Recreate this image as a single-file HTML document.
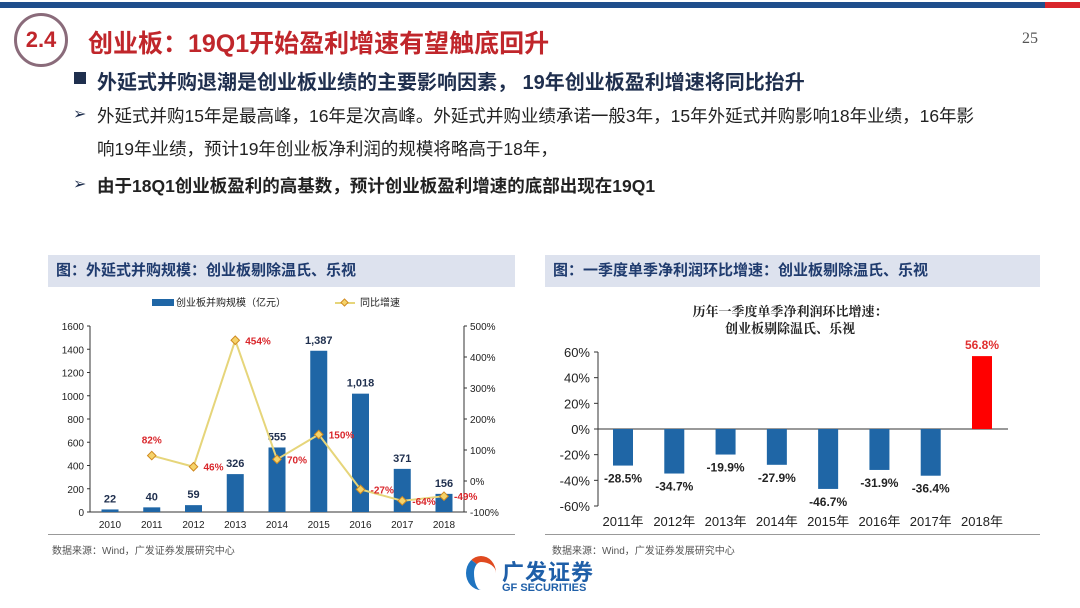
<!DOCTYPE html>
<html><head><meta charset="utf-8"><style>
body{margin:0;width:1080px;height:608px;background:#fff;position:relative;overflow:hidden;font-family:"Liberation Sans","Noto Sans CJK SC",sans-serif}
.a{position:absolute;white-space:nowrap}
.hdr{position:absolute;top:255px;height:32px;background:#dde2ee;font-weight:bold;font-size:15px;color:#1f3b6e;line-height:32px;padding-left:8px;box-sizing:border-box}
</style></head><body>
<div class="a" style="left:0;top:2px;width:1045px;height:6px;background:#1f4e8c"></div>
<div class="a" style="left:1045px;top:2px;width:35px;height:6px;background:#d9262b"></div>
<div class="a" style="left:14px;top:13px;width:54px;height:54px;border:3px solid #8a6b7a;border-radius:50%;box-sizing:border-box;color:#c0262b;font-weight:bold;font-size:22px;line-height:48px;text-align:center">2.4</div>
<div class="a" style="left:88px;top:24px;font-size:25px;font-weight:bold;color:#c0262b">创业板：19Q1开始盈利增速有望触底回升</div>
<div class="a" style="left:1022px;top:30px;font-size:16px;color:#555;font-family:'Liberation Serif',serif">25</div>
<div class="a" style="left:74px;top:72px;width:12px;height:12px;background:#1f2f4e"></div>
<div class="a" style="left:97px;top:66px;font-size:20px;font-weight:bold;color:#1f2f4e">外延式并购退潮是创业板业绩的主要影响因素， 19年创业板盈利增速将同比抬升</div>
<div class="a" style="left:73px;top:104px;font-size:16px;color:#1f2f4e">➢</div>
<div class="a" style="left:97px;top:103px;font-size:17.5px;color:#222">外延式并购15年是最高峰，16年是次高峰。外延式并购业绩承诺一般3年，15年外延式并购影响18年业绩，16年影</div>
<div class="a" style="left:97px;top:136px;font-size:17.5px;color:#222">响19年业绩，预计19年创业板净利润的规模将略高于18年，</div>
<div class="a" style="left:73px;top:174px;font-size:16px;color:#1f2f4e">➢</div>
<div class="a" style="left:97px;top:173px;font-size:17.5px;font-weight:bold;color:#222">由于18Q1创业板盈利的高基数，预计创业板盈利增速的底部出现在19Q1</div>
<div class="hdr" style="left:48px;width:467px">图：外延式并购规模：创业板剔除温氏、乐视</div>
<div class="hdr" style="left:545px;width:495px">图：一季度单季净利润环比增速：创业板剔除温氏、乐视</div>
<svg class="a" style="left:0;top:0" width="1080" height="608" id="svg"></svg>
<div class="a" style="left:48px;top:534px;width:467px;height:1px;background:#999"></div>
<div class="a" style="left:545px;top:534px;width:495px;height:1px;background:#999"></div>
<div class="a" style="left:52px;top:542px;font-size:10px;color:#555">数据来源：Wind，广发证券发展研究中心</div>
<div class="a" style="left:552px;top:542px;font-size:10px;color:#555">数据来源：Wind，广发证券发展研究中心</div>
<div class="a" style="left:466px;top:556px;width:30px;height:34px;border-radius:50%;border-left:8px solid #1f74c0;border-top:6px solid #e04a20;box-sizing:border-box"></div>
<div class="a" style="left:502px;top:555px;font-size:22px;font-weight:bold;color:#1f5fa8;letter-spacing:1px">广发证券</div>
<div class="a" style="left:502px;top:582px;font-size:11px;font-weight:bold;color:#1f5fa8">GF SECURITIES</div>
<script>
const years1=["2010","2011","2012","2013","2014","2015","2016","2017","2018"];
const scale1=[22,40,59,326,555,1387,1018,371,156];
const scaleLabels=["22","40","59","326","555","1,387","1,018","371","156"];
const growth1=[null,82,46,454,70,150,-27,-64,-49];
const growthLabels=["","82%","46%","454%","70%","150%","-27%","-64%","-49%"];
const leftTicks=[0,200,400,600,800,1000,1200,1400,1600];
const rightTicks=[-100,0,100,200,300,400,500];
const years2=["2011年","2012年","2013年","2014年","2015年","2016年","2017年","2018年"];
const q1growth=[-28.5,-34.7,-19.9,-27.9,-46.7,-31.9,-36.4,56.8];
const ticks2=[-60,-40,-20,0,20,40,60];
const svg=document.getElementById('svg');const NS='http://www.w3.org/2000/svg';
function mk(t,a,txt){const e=document.createElementNS(NS,t);for(const k in a)e.setAttribute(k,a[k]);if(txt!=null)e.textContent=txt;svg.appendChild(e);return e;}
const L={x0:90,x1:464,yt:326,yb:512};
const xL=i=>110+i*(444-110)/8;
const yL=v=>L.yb-(v/1600)*(L.yb-L.yt);
const yR=v=>L.yb-((v+100)/600)*(L.yb-L.yt);
let e;
e=mk('line',{x1:L.x0,y1:L.yt,x2:L.x0,y2:L.yb,stroke:'#333'});
e=mk('line',{x1:L.x1,y1:L.yt,x2:L.x1,y2:L.yb,stroke:'#333'});
e=mk('line',{x1:L.x0,y1:L.yb,x2:L.x1,y2:L.yb,stroke:'#333'});
leftTicks.forEach(v=>{e=mk('text',{x:L.x0-6,y:yL(v)+4,'text-anchor':'end','font-size':10,fill:'#222'},v);mk('line',{x1:L.x0-3,x2:L.x0,y1:yL(v),y2:yL(v),stroke:'#333'});});
rightTicks.forEach(v=>{e=mk('text',{x:L.x1+6,y:yR(v)+4,'font-size':10,fill:'#222'},v+'%');mk('line',{x1:L.x1,x2:L.x1+3,y1:yR(v),y2:yR(v),stroke:'#333'});});
years1.forEach((y,i)=>{e=mk('text',{x:xL(i),y:L.yb+16,'text-anchor':'middle','font-size':10,fill:'#222'},y);
e=mk('rect',{x:xL(i)-8.5,y:yL(scale1[i]),width:17,height:L.yb-yL(scale1[i]),fill:'#1f66a6'});
e=mk('text',{x:xL(i),y:yL(scale1[i])-7,'text-anchor':'middle','font-size':11,'font-weight':'bold',fill:'#1f2f4e'},scaleLabels[i]);});
let pts=[];growth1.forEach((g,i)=>{if(g!=null)pts.push(xL(i)+','+yR(g));});
e=mk('polyline',{points:pts.join(' '),fill:'none',stroke:'#e6d57a','stroke-width':2});
growth1.forEach((g,i)=>{if(g==null)return;e=mk('rect',{x:xL(i)-3,y:yR(g)-3,width:6,height:6,fill:'#f5d36a',stroke:'#d08a20',transform:`rotate(45 ${xL(i)} ${yR(g)})`});
const dy=i==1?-12:4;const dx=i==1?0:10;e=mk('text',{x:xL(i)+dx,y:yR(g)+dy,'text-anchor':i==1?'middle':'start','font-size':10,'font-weight':'bold',fill:'#d9262b'},growthLabels[i]);});
e=mk('rect',{x:152,y:299,width:22,height:7,fill:'#1f66a6'});
e=mk('text',{x:176,y:306,'font-size':10,fill:'#222'},'创业板并购规模（亿元）');
mk('line',{x1:335,x2:355,y1:303,y2:303,stroke:'#e6d57a','stroke-width':2});mk('rect',{x:342,y:300,width:5,height:5,fill:'#f5d36a',stroke:'#d08a20',transform:'rotate(45 344.5 302.5)'});
e=mk('text',{x:360,y:306,'font-size':10,fill:'#222'},'同比增速');
const R={x0:598,x1:1008,yt:352,yb:506};
const xR=i=>623+i*(982-623)/7;
const y2=v=>R.yb-((v+60)/120)*(R.yb-R.yt);
e=mk('text',{x:790,y:316,'text-anchor':'middle','font-size':13,'font-weight':'bold',fill:'#222','font-family':'Liberation Serif,Noto Serif CJK SC,serif'},'历年一季度单季净利润环比增速：');
e=mk('text',{x:790,y:333,'text-anchor':'middle','font-size':13,'font-weight':'bold',fill:'#222','font-family':'Liberation Serif,Noto Serif CJK SC,serif'},'创业板剔除温氏、乐视');
e=mk('line',{x1:R.x0,y1:R.yt,x2:R.x0,y2:R.yb,stroke:'#333'});
e=mk('line',{x1:R.x0,y1:y2(0),x2:R.x1,y2:y2(0),stroke:'#333'});
ticks2.forEach(v=>{e=mk('text',{x:R.x0-8,y:y2(v)+5,'text-anchor':'end','font-size':13,fill:'#222'},v+'%');mk('line',{x1:R.x0-4,x2:R.x0,y1:y2(v),y2:y2(v),stroke:'#333'});});
years2.forEach((y,i)=>{const v=q1growth[i];const top=Math.min(y2(v),y2(0));
e=mk('rect',{x:xR(i)-10,y:top,width:20,height:Math.abs(y2(v)-y2(0)),fill:v>0?'#ff0000':'#1f66a6'});
e=mk('text',{x:xR(i),y:v>0?y2(v)-7:y2(v)+17,'text-anchor':'middle','font-size':12,'font-weight':'bold',fill:v>0?'#e03030':'#222'},v.toFixed(1)+'%');
e=mk('text',{x:xR(i),y:526,'text-anchor':'middle','font-size':13,fill:'#222'},y);});
</script>
</body></html>
